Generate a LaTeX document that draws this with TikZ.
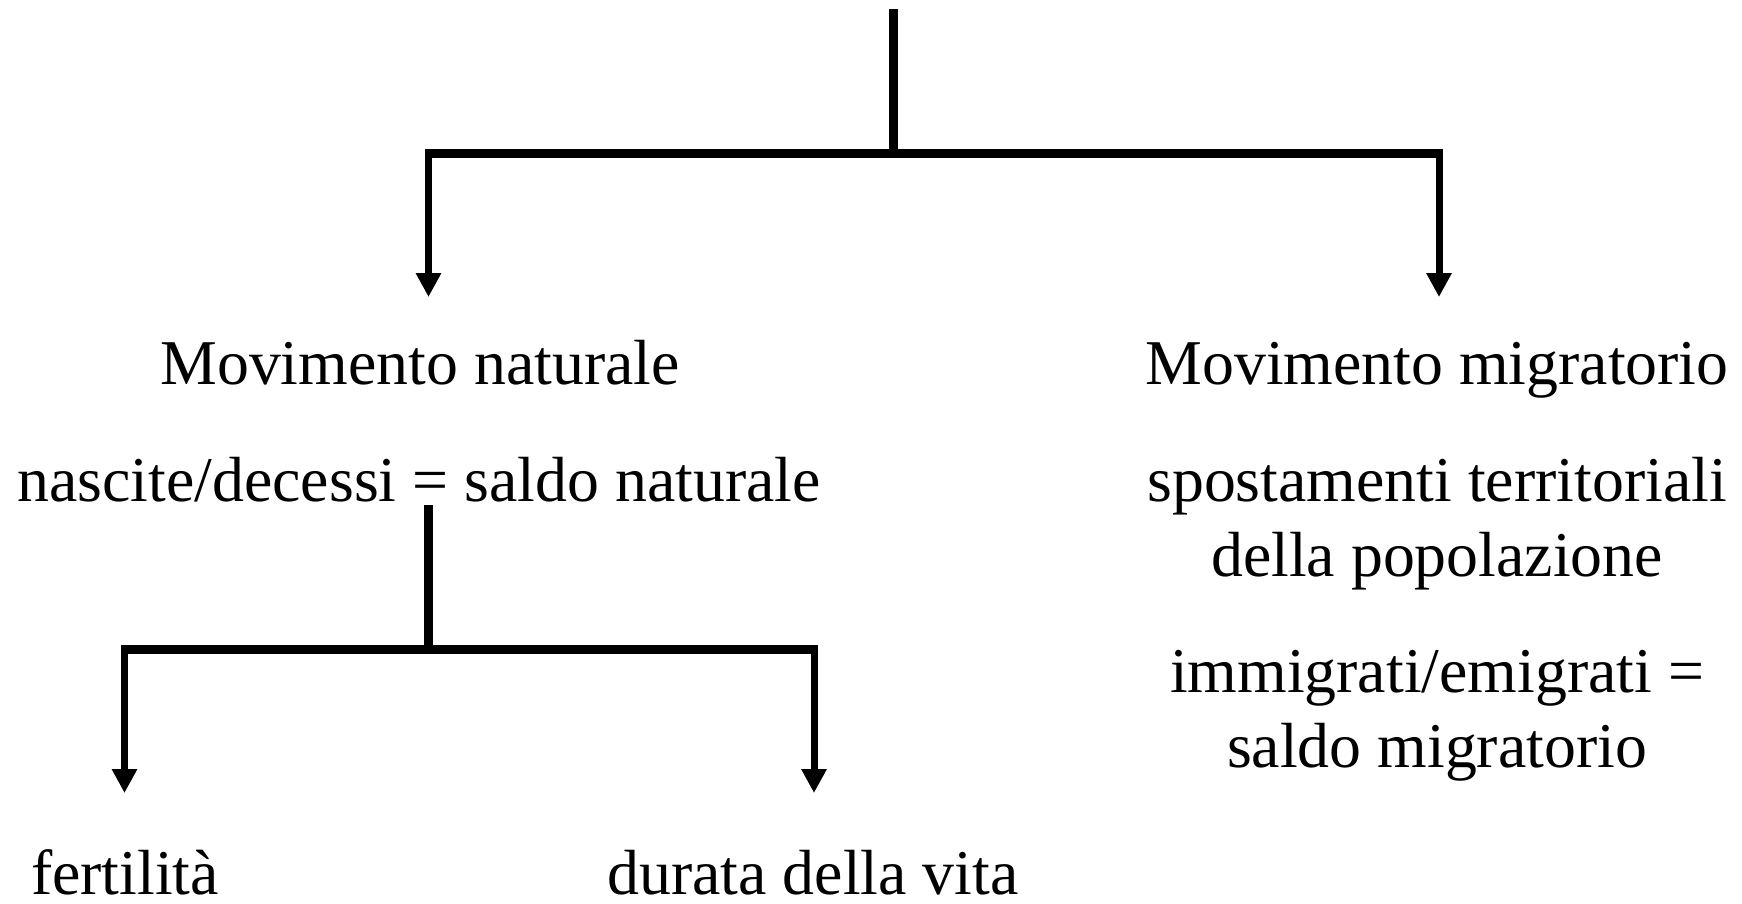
\documentclass[tikz,border=0pt]{standalone}
\usepackage{fontspec}
\setmainfont{Liberation Serif}
\newfontfamily\tnr{Liberation Serif}
\usetikzlibrary{arrows.meta}
\tikzset{
  lbl/.style={inner sep=0pt, outer sep=0pt, anchor=base, font=\tnr\fontsize{63.8}{74}\selectfont},
  stem/.style={line width=9pt},
  bar/.style={line width=8.5pt},
  arr/.style={line width=7pt, -{Triangle[length=24pt,width=24pt]}}
}
\begin{document}
\begin{tikzpicture}[x=1pt,y=-1pt]
\useasboundingbox[fill=white] (0,0) rectangle (1742,903);
% text nodes
\node[lbl] (mn) at (420,384) {Movimento naturale};
\node[lbl] (mm) at (1437,384) {Movimento migratorio};
\node[lbl] (nd) at (419,501) {nascite/decessi = saldo naturale};
\node[lbl] (sp1) at (1437,501) {spostamenti territoriali};
\node[lbl] (sp2) at (1437,576) {della popolazione};
\node[lbl] (im1) at (1437,692) {immigrati/emigrati =};
\node[lbl] (im2) at (1437,767) {saldo migratorio};
\node[lbl] (fe) at (125,894) {fertilità};
\node[lbl] (dv) at (813,894) {durata della vita};
% structure points
\coordinate (root) at (893.5,9);
\coordinate (j1) at (893.5,153.5);
\coordinate (b1L) at (428.5,153.5);
\coordinate (b1R) at (1439,153.5);
\coordinate (tMN) at (428.5,297);
\coordinate (tMM) at (1439,297);
\coordinate (s2) at (428.5,505);
\coordinate (j2) at (428.5,649.5);
\coordinate (b2L) at (124.5,649.5);
\coordinate (b2R) at (814,649.5);
\coordinate (tFE) at (124.5,793);
\coordinate (tDV) at (814,793);
% connectors
\draw[stem] (root) -- (j1);
\draw[bar] ([xshift=-3.5pt]b1L) -- ([xshift=3.5pt]b1R);
\draw[arr] ([yshift=-4pt]b1L) -- (tMN);
\draw[arr] ([yshift=-4pt]b1R) -- (tMM);
\draw[stem] (s2) -- (j2);
\draw[bar] ([xshift=-3.5pt]b2L) -- ([xshift=3.5pt]b2R);
\draw[arr] ([yshift=-4pt]b2L) -- (tFE);
\draw[arr] ([yshift=-4pt]b2R) -- (tDV);
\end{tikzpicture}
\end{document}
